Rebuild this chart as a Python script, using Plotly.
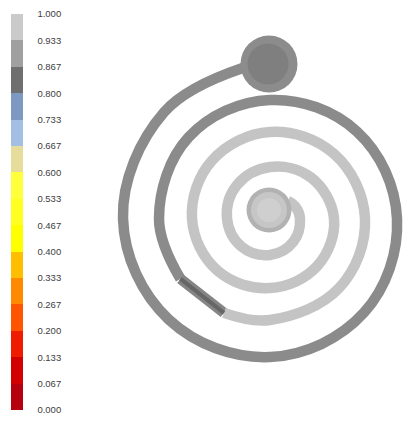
import numpy as np
import plotly.graph_objects as go

# ---------------- colour legend (15 discrete bands, 0..1) ----------------
legend_tick_values = [i / 15 for i in range(16)]
legend_tick_labels = ["0.000", "0.067", "0.133", "0.200", "0.267", "0.333", "0.400", "0.467",
                      "0.533", "0.600", "0.667", "0.733", "0.800", "0.867", "0.933", "1.000"]
legend_band_colors = ["#b5000e", "#d30000", "#ef1c00", "#ff5500", "#ff8a00", "#ffbe00",
                      "#ffff00", "#ffff22", "#ffff3c", "#e6dc9c", "#a3bfe3", "#7d99c1",
                      "#6f6f6f", "#a0a0a0", "#cacaca"]

# ---------------- spiral channel centre line ----------------
# angle in degrees (counter-clockwise, 90 = top), radius from spiral centre
channel_angle = [100, 135, 180, 225, 270, 315, 360, 405, 450, 495, 540, 574,
                 604, 630, 675, 720, 765, 810, 855, 900, 945, 990, 1035, 1080,
                 1125, 1170, 1215, 1260, 1305, 1350, 1395, 1440, 1465, 1485]
channel_radius = [153, 150, 147, 143, 138.5, 133, 127, 123, 118.5, 115, 111, 108,
                  105, 101.5, 98, 95, 91, 86.5, 82, 78, 74, 69.5, 67, 64,
                  58, 51.5, 47, 43, 40, 36.5, 33, 30, 28, 25]
# concentration state along the channel: dark up to the mixing front, mottled front, light after
dark_until = 574
front_until = 604

# reservoirs: inlet (top) and outlet (centre), x/y relative to spiral centre
inlet_xy = (-1, 154.5)
outlet_xy = (-1, 8.5)

ang = np.radians(np.array(channel_angle, dtype=float))
rad = np.array(channel_radius, dtype=float)
cx = rad * np.cos(ang)
cy = rad * np.sin(ang)
a = np.array(channel_angle)

fig = go.Figure()


def seg(mask, color, width, smooth=1.1):
    fig.add_trace(go.Scatter(x=cx[mask], y=cy[mask], mode="lines",
                             line=dict(color=color, width=width, shape="spline", smoothing=smooth),
                             hoverinfo="skip", showlegend=False))


seg(a <= dark_until, "#8b8b8b", 10.5)
seg((a >= dark_until) & (a <= front_until), "#858585", 10.5)
seg(a >= front_until, "#c4c4c4", 10.5)
# mottled front
seg((a >= dark_until) & (a <= front_until), "#666666", 4)
seg((a >= dark_until + 10) & (a <= front_until), "#b0b0b0", 2)

# inlet reservoir
fig.add_trace(go.Scatter(x=[inlet_xy[0]], y=[inlet_xy[1]], mode="markers",
                         marker=dict(size=57, color="#8c8c8c", line=dict(width=0)),
                         hoverinfo="skip", showlegend=False))
fig.add_trace(go.Scatter(x=[inlet_xy[0] - 1], y=[inlet_xy[1]], mode="markers",
                         marker=dict(size=41, color="#7f7f7f", line=dict(width=0)),
                         hoverinfo="skip", showlegend=False))
# outlet reservoir
fig.add_trace(go.Scatter(x=[outlet_xy[0]], y=[outlet_xy[1]], mode="markers",
                         marker=dict(size=45, color="#b2b2b2", line=dict(width=0)),
                         hoverinfo="skip", showlegend=False))
fig.add_trace(go.Scatter(x=[outlet_xy[0]], y=[outlet_xy[1]], mode="markers",
                         marker=dict(size=36, color="#c6c6c6", line=dict(width=0)),
                         hoverinfo="skip", showlegend=False))
fig.add_trace(go.Scatter(x=[outlet_xy[0]], y=[outlet_xy[1]], mode="markers",
                         marker=dict(size=24, color="#cfcfcf", line=dict(width=0)),
                         hoverinfo="skip", showlegend=False))

# colour bar
colorscale = []
for i, c in enumerate(legend_band_colors):
    colorscale.append([i / 15, c])
    colorscale.append([(i + 1) / 15, c])

fig.add_trace(go.Scatter(
    x=[None], y=[None], mode="markers", hoverinfo="skip", showlegend=False,
    marker=dict(color=[0.5], cmin=0, cmax=1, colorscale=colorscale, showscale=True,
                colorbar=dict(
                    xref="container", yref="container",
                    x=11 / 411, xanchor="left", xpad=0,
                    y=1 - 410 / 421, yanchor="bottom", ypad=0,
                    len=396, lenmode="pixels",
                    thickness=12, thicknessmode="pixels",
                    outlinewidth=0,
                    tickmode="array", tickvals=legend_tick_values, ticktext=legend_tick_labels,
                    ticks="outside", ticklen=13, tickcolor="rgba(0,0,0,0)",
                    tickfont=dict(family="Liberation Sans, Arial, sans-serif", size=9.5, color="#404040"),
                ))))

W, H = 411, 421
CX, CY = 270, 218.5
fig.update_layout(
    width=W, height=H,
    margin=dict(l=0, r=0, t=0, b=0, autoexpand=False),
    paper_bgcolor="white", plot_bgcolor="white",
    xaxis=dict(range=[-CX, W - CX], visible=False, fixedrange=True),
    yaxis=dict(range=[-(H - CY), CY], visible=False, fixedrange=True),
)

fig.write_html("out.html", config={"displayModeBar": False},
               post_script="document.body.style.margin='0';document.body.style.overflow='hidden';")
